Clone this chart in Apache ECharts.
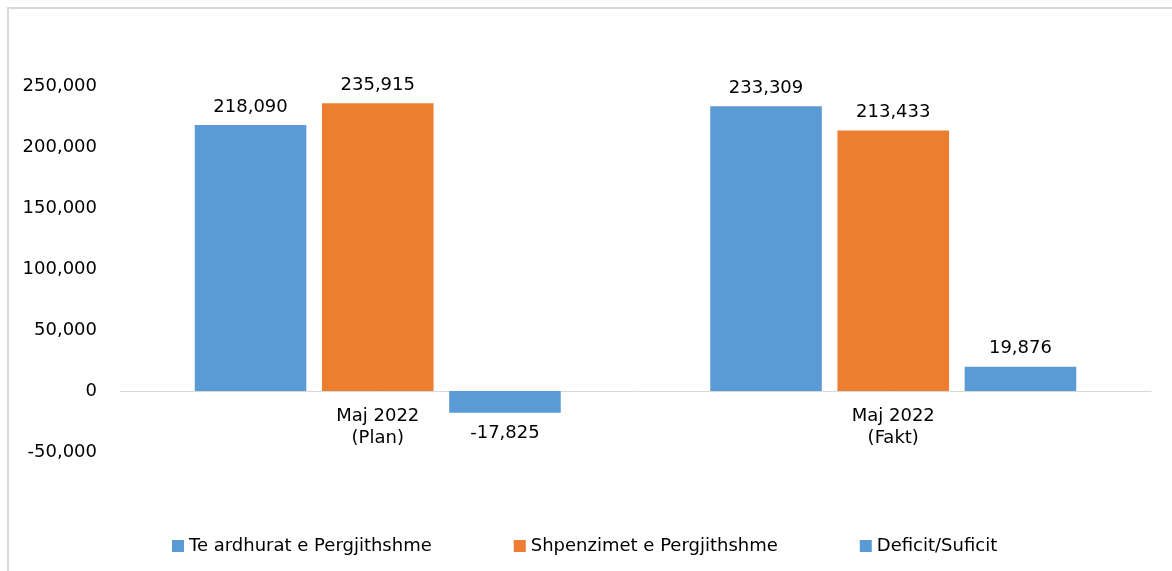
<!DOCTYPE html>
<html>
<head>
<meta charset="utf-8">
<script src="https://cdn.jsdelivr.net/npm/echarts@6/dist/echarts.min.js"></script>
<style>
  html, body { margin: 0; padding: 0; background: #fff; }
  #frame { position: absolute; left: 7px; top: 7px; width: 1180px; height: 580px;
           border-left: 2px solid #d9d9d9; border-top: 2px solid #d9d9d9; }
  #main { position: absolute; left: 0; top: 0; width: 1172px; height: 571px; }
</style>
</head>
<body>
<div id="frame"></div>
<div id="main"></div>
<script>
// te dhenat
const categories = ['Maj 2022\n(Plan)', 'Maj 2022\n(Fakt)']
const seriesNames = ['Te ardhurat e Pergjithshme', 'Shpenzimet e Pergjithshme', 'Deficit/Suficit']
const teArdhurat = [218090, 233309]
const shpenzimet = [235915, 213433]
const deficit = [-17825, 19876]
const colors = ['#5b9bd5', '#ed7d31', '#5b9bd5']

const font = 'DejaVu Sans'
const fmt = v => Number(v).toLocaleString('en-US')

const myChart = echarts.init(document.getElementById('main'))

function makeSeries(name, values, color) {
  return {
    name: name,
    type: 'bar',
    barGap: '14%',
    barCategoryGap: '29%',
    itemStyle: { color: color },
    label: {
      show: true,
      position: 'top',
      distance: 9,
      fontFamily: font,
      fontSize: 18,
      color: '#000',
      formatter: p => fmt(p.value)
    },
    // vlerat negative e kane etiketen poshte shtylles
    data: values.map(v => ({ value: v, label: v < 0 ? { position: 'bottom', distance: 12 } : { position: 'top' } }))
  }
}

const option = {
  animation: false,
  color: colors,
  grid: { left: 120, right: 21, top: 86, bottom: 119, containLabel: false },
  legend: {
    left: 167,
    bottom: 11,
    itemWidth: 12,
    itemHeight: 12,
    itemGap: 82,
    icon: 'rect',
    textStyle: { fontFamily: font, fontSize: 18, color: '#000' },
    data: seriesNames
  },
  xAxis: {
    type: 'category',
    data: categories,
    axisLine: { onZero: true, lineStyle: { color: '#d9d9d9', width: 1 } },
    axisTick: { show: false },
    // etiketat qendrohen poshte vijes zero, jo ne fund te grafikut
    axisLabel: { fontFamily: font, fontSize: 18, color: '#000', lineHeight: 22, margin: -47 }
  },
  yAxis: {
    type: 'value',
    min: -50000,
    max: 250000,
    interval: 50000,
    splitLine: { show: false },
    axisLine: { show: false },
    axisTick: { show: false },
    axisLabel: { fontFamily: font, fontSize: 18, color: '#000', margin: 23, formatter: fmt }
  },
  series: [
    makeSeries(seriesNames[0], teArdhurat, colors[0]),
    makeSeries(seriesNames[1], shpenzimet, colors[1]),
    makeSeries(seriesNames[2], deficit, colors[2])
  ]
}
myChart.setOption(option)
</script>
</body>
</html>
